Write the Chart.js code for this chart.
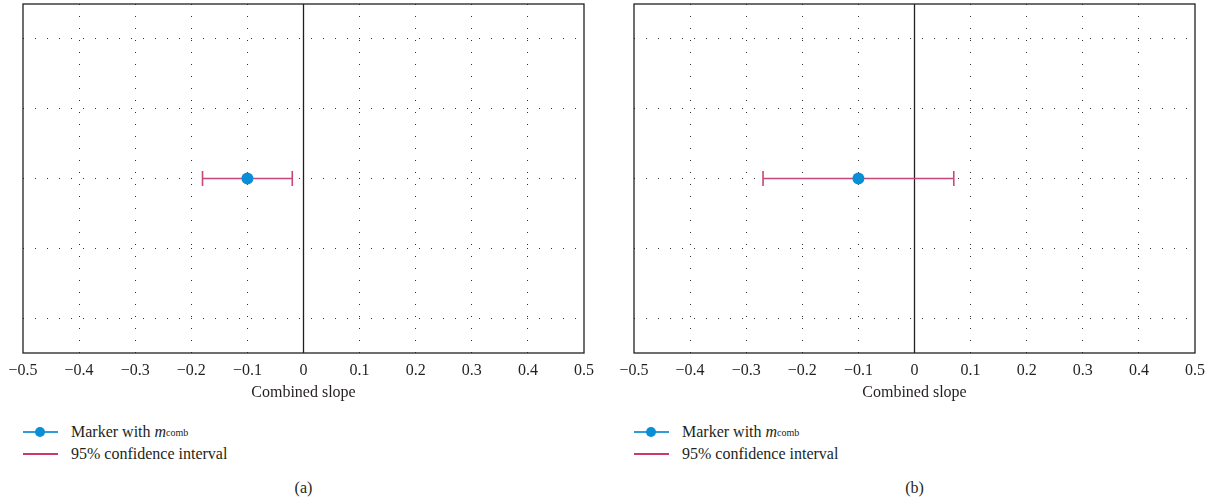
<!DOCTYPE html>
<html>
<head>
<meta charset="utf-8">
<script src="https://cdn.jsdelivr.net/npm/chart.js@4.4.1/dist/chart.umd.min.js"></script>
<style>
  body {
    margin: 0;
    width: 1214px;
    height: 504px;
    background: #fff;
    position: relative;
    overflow: hidden;
    font-family: "Liberation Serif", "DejaVu Serif", serif;
    color: #231f20;
  }
  .panel { position: absolute; top: 0; width: 607px; height: 504px; }
  .panel canvas { position: absolute; left: 0; top: 0; }
  .legend { position: absolute; left: 23px; top: 421px; font-size: 16px; }
  .item { display: flex; align-items: center; height: 22px; white-space: nowrap; }
  .sym { position: relative; width: 35px; height: 1.5px; margin-right: 13px; }
  .sym.blue { background: #2f9bd9; }
  .sym.blue::after {
    content: ""; position: absolute; left: 12px; top: -4.5px;
    width: 10px; height: 10px; border-radius: 50%; background: #0a8fd6;
  }
  .sym.red { background: #d0386c; height: 1.2px; }
  .item i { font-style: italic; }
  .item sub { font-size: 10px; vertical-align: -5px; }
  .caption { position: absolute; top: 479px; left: 0; width: 607px; text-align: center; font-size: 16px; }
</style>
</head>
<body>
<div class="panel" style="left:0">
  <canvas id="chartA" width="607" height="402"></canvas>
  <div class="legend">
    <div class="item"><span class="sym blue"></span>Marker with&nbsp;<i>m</i><sub>comb</sub></div>
    <div class="item"><span class="sym red"></span>95% confidence interval</div>
  </div>
  <div class="caption">(a)</div>
</div>
<div class="panel" style="left:611px">
  <canvas id="chartB" width="607" height="402"></canvas>
  <div class="legend">
    <div class="item"><span class="sym blue"></span>Marker with&nbsp;<i>m</i><sub>comb</sub></div>
    <div class="item"><span class="sym red"></span>95% confidence interval</div>
  </div>
  <div class="caption">(b)</div>
</div>
<script>
const xTickValues = [-0.5, -0.4, -0.3, -0.2, -0.1, 0, 0.1, 0.2, 0.3, 0.4, 0.5];
const xTickLabels = ["\u22120.5", "\u22120.4", "\u22120.3", "\u22120.2", "\u22120.1", "0", "0.1", "0.2", "0.3", "0.4", "0.5"];
const rowGridValues = [0.5, 1.5, 2.5, 3.5, 4.5];
const panelIds = ["chartA", "chartB"];
const slopeMarker = [-0.1, -0.1];
const ciLow = [-0.18, -0.27];
const ciHigh = [-0.02, 0.07];
const markerRow = 2.5;

const FONT = { family: "'Liberation Serif', 'DejaVu Serif', serif", size: 16 };
const INK = "#231f20";
const CI_COLOR = "#c8467a";
const DOT_COLOR = "#0a8fd6";

// frame round the plot area and the solid zero line
const framePlugin = {
  id: "frame",
  beforeDatasetsDraw(chart) {
    const { ctx, chartArea: a, scales: { x } } = chart;
    const x0 = x.getPixelForValue(0);
    ctx.save();
    ctx.strokeStyle = INK;
    ctx.lineWidth = 1.3;
    ctx.beginPath();
    ctx.moveTo(x0, a.top);
    ctx.lineTo(x0, a.bottom);
    ctx.stroke();
    ctx.strokeRect(a.left, a.top, a.right - a.left, a.bottom - a.top);
    ctx.restore();
  },
};

function hideEdgeGrid(ctx) {
  const v = ctx.tick ? ctx.tick.value : 0;
  if (Math.abs(v) > 0.45 || Math.abs(v) < 1e-9) return "rgba(0,0,0,0)";
  return "#333";
}

panelIds.forEach((id, i) => {
  new Chart(document.getElementById(id), {
    type: "scatter",
    data: {
      datasets: [
        {
          // confidence interval, drawn under the marker
          type: "line",
          order: 1,
          data: [
            { x: ciLow[i], y: markerRow },
            { x: ciHigh[i], y: markerRow },
          ],
          borderColor: CI_COLOR,
          borderWidth: 1.6,
          pointStyle: "line",
          pointRotation: 90,
          pointRadius: 7.5,
          pointBorderColor: CI_COLOR,
          pointBorderWidth: 1.6,
          fill: false,
        },
        {
          order: 0,
          data: [{ x: slopeMarker[i], y: markerRow }],
          pointRadius: 6,
          backgroundColor: DOT_COLOR,
          borderColor: DOT_COLOR,
          borderWidth: 0,
        },
      ],
    },
    options: {
      responsive: false,
      animation: false,
      events: [],
      layout: { autoPadding: false, padding: { top: 4, left: 0, right: 0, bottom: 0 } },
      plugins: { legend: { display: false }, tooltip: { enabled: false } },
      scales: {
        x: {
          type: "linear",
          min: -0.5,
          max: 0.5,
          afterBuildTicks: (s) => { s.ticks = xTickValues.map((v) => ({ value: v })); },
          afterFit: (s) => { s.height = 49; },
          ticks: {
            callback: (v, idx) => xTickLabels[idx],
            color: INK,
            font: FONT,
            padding: 8,
            maxRotation: 0,
            autoSkip: false,
          },
          grid: { color: hideEdgeGrid, lineWidth: 1, drawTicks: false },
          border: { display: false, dash: [1, 11] },
          title: {
            display: true,
            text: "Combined slope",
            color: INK,
            font: FONT,
            padding: { top: 0, bottom: 0 },
          },
        },
        y: {
          min: 0,
          max: 5,
          afterBuildTicks: (s) => { s.ticks = rowGridValues.map((v) => ({ value: v })); },
          afterFit: (s) => { s.width = 23; },
          ticks: { display: false },
          grid: { color: "#333", lineWidth: 1, drawTicks: false },
          border: { display: false, dash: [1, 11] },
        },
        yRight: {
          position: "right",
          min: 0,
          max: 5,
          afterFit: (s) => { s.width = 23; },
          ticks: { display: false },
          grid: { display: false },
          border: { display: false },
        },
      },
    },
    plugins: [framePlugin],
  });
});
</script>
</body>
</html>
